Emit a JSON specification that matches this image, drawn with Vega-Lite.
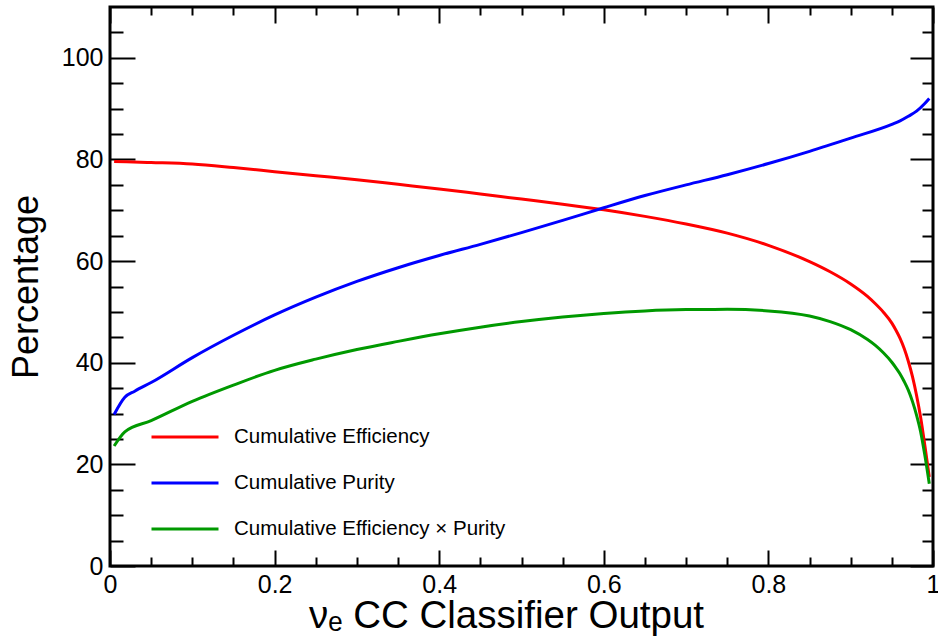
{
  "$schema": "https://vega.github.io/schema/vega-lite/v6.json",
  "width": 823,
  "height": 559,
  "autosize": {"type": "none"},
  "padding": {"left": 110, "top": 7, "right": 5, "bottom": 74},
  "background": "white",
  "config": {
    "font": "Liberation Sans",
    "view": {"stroke": "black", "strokeWidth": 3},
    "axis": {
      "domain": false,
      "grid": false,
      "tickColor": "black",
      "tickWidth": 2,
      "labelColor": "black",
      "titleColor": "black",
      "labelFont": "Liberation Sans",
      "titleFont": "Liberation Sans",
      "titleFontWeight": "normal",
      "labelFlush": false,
      "labelOverlap": false
    }
  },
  "data": {
    "values": [
      {"x": 0.005, "value": 79.6, "series": "Cumulative Efficiency"},
      {"x": 0.02, "value": 79.55, "series": "Cumulative Efficiency"},
      {"x": 0.05, "value": 79.4, "series": "Cumulative Efficiency"},
      {"x": 0.1, "value": 79.1, "series": "Cumulative Efficiency"},
      {"x": 0.15, "value": 78.4, "series": "Cumulative Efficiency"},
      {"x": 0.2, "value": 77.6, "series": "Cumulative Efficiency"},
      {"x": 0.25, "value": 76.8, "series": "Cumulative Efficiency"},
      {"x": 0.3, "value": 76.0, "series": "Cumulative Efficiency"},
      {"x": 0.35, "value": 75.1, "series": "Cumulative Efficiency"},
      {"x": 0.4, "value": 74.2, "series": "Cumulative Efficiency"},
      {"x": 0.45, "value": 73.2, "series": "Cumulative Efficiency"},
      {"x": 0.5, "value": 72.2, "series": "Cumulative Efficiency"},
      {"x": 0.55, "value": 71.2, "series": "Cumulative Efficiency"},
      {"x": 0.6, "value": 70.1, "series": "Cumulative Efficiency"},
      {"x": 0.65, "value": 68.8, "series": "Cumulative Efficiency"},
      {"x": 0.7, "value": 67.3, "series": "Cumulative Efficiency"},
      {"x": 0.75, "value": 65.5, "series": "Cumulative Efficiency"},
      {"x": 0.8, "value": 63.1, "series": "Cumulative Efficiency"},
      {"x": 0.85, "value": 59.9, "series": "Cumulative Efficiency"},
      {"x": 0.875, "value": 57.9, "series": "Cumulative Efficiency"},
      {"x": 0.9, "value": 55.5, "series": "Cumulative Efficiency"},
      {"x": 0.92, "value": 53.1, "series": "Cumulative Efficiency"},
      {"x": 0.93, "value": 51.6, "series": "Cumulative Efficiency"},
      {"x": 0.94, "value": 49.9, "series": "Cumulative Efficiency"},
      {"x": 0.95, "value": 47.8, "series": "Cumulative Efficiency"},
      {"x": 0.955, "value": 46.4, "series": "Cumulative Efficiency"},
      {"x": 0.96, "value": 44.8, "series": "Cumulative Efficiency"},
      {"x": 0.965, "value": 42.8, "series": "Cumulative Efficiency"},
      {"x": 0.97, "value": 40.3, "series": "Cumulative Efficiency"},
      {"x": 0.975, "value": 37.3, "series": "Cumulative Efficiency"},
      {"x": 0.98, "value": 33.6, "series": "Cumulative Efficiency"},
      {"x": 0.985, "value": 29.2, "series": "Cumulative Efficiency"},
      {"x": 0.99, "value": 23.8, "series": "Cumulative Efficiency"},
      {"x": 0.9955, "value": 17.5, "series": "Cumulative Efficiency"},

      {"x": 0.005, "value": 29.8, "series": "Cumulative Purity"},
      {"x": 0.018, "value": 33.2, "series": "Cumulative Purity"},
      {"x": 0.03, "value": 34.4, "series": "Cumulative Purity"},
      {"x": 0.05, "value": 36.1, "series": "Cumulative Purity"},
      {"x": 0.1, "value": 41.0, "series": "Cumulative Purity"},
      {"x": 0.15, "value": 45.4, "series": "Cumulative Purity"},
      {"x": 0.2, "value": 49.4, "series": "Cumulative Purity"},
      {"x": 0.25, "value": 52.9, "series": "Cumulative Purity"},
      {"x": 0.3, "value": 56.0, "series": "Cumulative Purity"},
      {"x": 0.35, "value": 58.7, "series": "Cumulative Purity"},
      {"x": 0.4, "value": 61.1, "series": "Cumulative Purity"},
      {"x": 0.45, "value": 63.3, "series": "Cumulative Purity"},
      {"x": 0.5, "value": 65.6, "series": "Cumulative Purity"},
      {"x": 0.55, "value": 68.0, "series": "Cumulative Purity"},
      {"x": 0.6, "value": 70.5, "series": "Cumulative Purity"},
      {"x": 0.65, "value": 72.9, "series": "Cumulative Purity"},
      {"x": 0.7, "value": 75.0, "series": "Cumulative Purity"},
      {"x": 0.75, "value": 77.0, "series": "Cumulative Purity"},
      {"x": 0.8, "value": 79.2, "series": "Cumulative Purity"},
      {"x": 0.85, "value": 81.6, "series": "Cumulative Purity"},
      {"x": 0.9, "value": 84.2, "series": "Cumulative Purity"},
      {"x": 0.95, "value": 86.9, "series": "Cumulative Purity"},
      {"x": 0.96, "value": 87.6, "series": "Cumulative Purity"},
      {"x": 0.97, "value": 88.5, "series": "Cumulative Purity"},
      {"x": 0.98, "value": 89.5, "series": "Cumulative Purity"},
      {"x": 0.99, "value": 91.0, "series": "Cumulative Purity"},
      {"x": 0.9955, "value": 92.0, "series": "Cumulative Purity"},

      {"x": 0.005, "value": 23.6, "series": "Cumulative Efficiency × Purity"},
      {"x": 0.018, "value": 26.4, "series": "Cumulative Efficiency × Purity"},
      {"x": 0.05, "value": 28.6, "series": "Cumulative Efficiency × Purity"},
      {"x": 0.1, "value": 32.4, "series": "Cumulative Efficiency × Purity"},
      {"x": 0.15, "value": 35.6, "series": "Cumulative Efficiency × Purity"},
      {"x": 0.2, "value": 38.5, "series": "Cumulative Efficiency × Purity"},
      {"x": 0.25, "value": 40.7, "series": "Cumulative Efficiency × Purity"},
      {"x": 0.3, "value": 42.6, "series": "Cumulative Efficiency × Purity"},
      {"x": 0.35, "value": 44.2, "series": "Cumulative Efficiency × Purity"},
      {"x": 0.4, "value": 45.7, "series": "Cumulative Efficiency × Purity"},
      {"x": 0.45, "value": 47.0, "series": "Cumulative Efficiency × Purity"},
      {"x": 0.5, "value": 48.1, "series": "Cumulative Efficiency × Purity"},
      {"x": 0.55, "value": 49.0, "series": "Cumulative Efficiency × Purity"},
      {"x": 0.6, "value": 49.7, "series": "Cumulative Efficiency × Purity"},
      {"x": 0.65, "value": 50.2, "series": "Cumulative Efficiency × Purity"},
      {"x": 0.7, "value": 50.45, "series": "Cumulative Efficiency × Purity"},
      {"x": 0.75, "value": 50.5, "series": "Cumulative Efficiency × Purity"},
      {"x": 0.8, "value": 50.2, "series": "Cumulative Efficiency × Purity"},
      {"x": 0.85, "value": 49.2, "series": "Cumulative Efficiency × Purity"},
      {"x": 0.875, "value": 48.1, "series": "Cumulative Efficiency × Purity"},
      {"x": 0.9, "value": 46.5, "series": "Cumulative Efficiency × Purity"},
      {"x": 0.92, "value": 44.6, "series": "Cumulative Efficiency × Purity"},
      {"x": 0.93, "value": 43.4, "series": "Cumulative Efficiency × Purity"},
      {"x": 0.94, "value": 41.9, "series": "Cumulative Efficiency × Purity"},
      {"x": 0.95, "value": 40.1, "series": "Cumulative Efficiency × Purity"},
      {"x": 0.955, "value": 39.0, "series": "Cumulative Efficiency × Purity"},
      {"x": 0.96, "value": 37.8, "series": "Cumulative Efficiency × Purity"},
      {"x": 0.965, "value": 36.3, "series": "Cumulative Efficiency × Purity"},
      {"x": 0.97, "value": 34.6, "series": "Cumulative Efficiency × Purity"},
      {"x": 0.975, "value": 32.4, "series": "Cumulative Efficiency × Purity"},
      {"x": 0.98, "value": 29.7, "series": "Cumulative Efficiency × Purity"},
      {"x": 0.985, "value": 26.4, "series": "Cumulative Efficiency × Purity"},
      {"x": 0.99, "value": 21.9, "series": "Cumulative Efficiency × Purity"},
      {"x": 0.9955, "value": 16.2, "series": "Cumulative Efficiency × Purity"}
    ]
  },
  "resolve": {"axis": {"x": "independent", "y": "independent"}},
  "layer": [
    {
      "description": "minor ticks on the bottom and left edges",
      "mark": {"type": "point", "opacity": 0},
      "encoding": {
        "x": {"field": "x", "type": "quantitative", "scale": {"domain": [0, 1], "nice": false, "zero": false},
          "axis": {"orient": "bottom", "values": [0.05, 0.1, 0.15, 0.25, 0.3, 0.35, 0.45, 0.5, 0.55, 0.65, 0.7, 0.75, 0.85, 0.9, 0.95], "labels": false, "title": null, "tickSize": -9}},
        "y": {"field": "value", "type": "quantitative", "scale": {"domain": [0, 110], "nice": false, "zero": false},
          "axis": {"orient": "left", "values": [5, 10, 15, 25, 30, 35, 45, 50, 55, 65, 70, 75, 85, 90, 95, 105], "labels": false, "title": null, "tickSize": -13}}
      }
    },
    {
      "description": "major ticks on the top and right edges",
      "mark": {"type": "point", "opacity": 0},
      "encoding": {
        "x": {"field": "x", "type": "quantitative", "scale": {"domain": [0, 1], "nice": false, "zero": false},
          "axis": {"orient": "top", "values": [0, 0.2, 0.4, 0.6, 0.8, 1], "labels": false, "title": null, "tickSize": -16}},
        "y": {"field": "value", "type": "quantitative", "scale": {"domain": [0, 110], "nice": false, "zero": false},
          "axis": {"orient": "right", "values": [0, 20, 40, 60, 80, 100], "labels": false, "title": null, "tickSize": -23}}
      }
    },
    {
      "description": "minor ticks on the top and right edges",
      "mark": {"type": "point", "opacity": 0},
      "encoding": {
        "x": {"field": "x", "type": "quantitative", "scale": {"domain": [0, 1], "nice": false, "zero": false},
          "axis": {"orient": "top", "values": [0.05, 0.1, 0.15, 0.25, 0.3, 0.35, 0.45, 0.5, 0.55, 0.65, 0.7, 0.75, 0.85, 0.9, 0.95], "labels": false, "title": null, "tickSize": -8}},
        "y": {"field": "value", "type": "quantitative", "scale": {"domain": [0, 110], "nice": false, "zero": false},
          "axis": {"orient": "right", "values": [5, 10, 15, 25, 30, 35, 45, 50, 55, 65, 70, 75, 85, 90, 95, 105], "labels": false, "title": null, "tickSize": -11}}
      }
    },
    {
      "description": "the three cumulative curves with the labelled axes",
      "mark": {"type": "line", "strokeWidth": 3, "interpolate": "monotone"},
      "encoding": {
        "x": {"field": "x", "type": "quantitative", "scale": {"domain": [0, 1], "nice": false, "zero": false},
          "axis": {"orient": "bottom", "values": [0, 0.2, 0.4, 0.6, 0.8, 1], "format": "~r", "tickSize": -16, "labelFontSize": 25, "labelPadding": 22,
            "title": "νₑ CC Classifier Output", "titleFontSize": 38.5, "titlePadding": 0, "titleX": 396, "titleAlign": "center"}},
        "y": {"field": "value", "type": "quantitative", "scale": {"domain": [0, 110], "nice": false, "zero": false},
          "axis": {"orient": "left", "values": [0, 20, 40, 60, 80, 100], "format": "d", "tickSize": -25, "labelFontSize": 25, "labelPadding": 32,
            "title": "Percentage", "titleFontSize": 36, "titlePadding": 16}},
        "color": {"field": "series", "type": "nominal",
          "scale": {"domain": ["Cumulative Efficiency", "Cumulative Purity", "Cumulative Efficiency × Purity"], "range": ["#ff0000", "#0000ff", "#009900"]},
          "legend": {"orient": "none", "legendX": 40, "legendY": 395, "title": null, "padding": 0,
            "symbolType": "stroke", "symbolSize": 4489, "symbolStrokeWidth": 3,
            "labelFontSize": 20.5, "labelFont": "Liberation Sans", "labelColor": "black", "labelOffset": 14, "labelLimit": 500, "rowPadding": 0}},
        "order": {"field": "x", "type": "quantitative"}
      }
    }
  ]
}
